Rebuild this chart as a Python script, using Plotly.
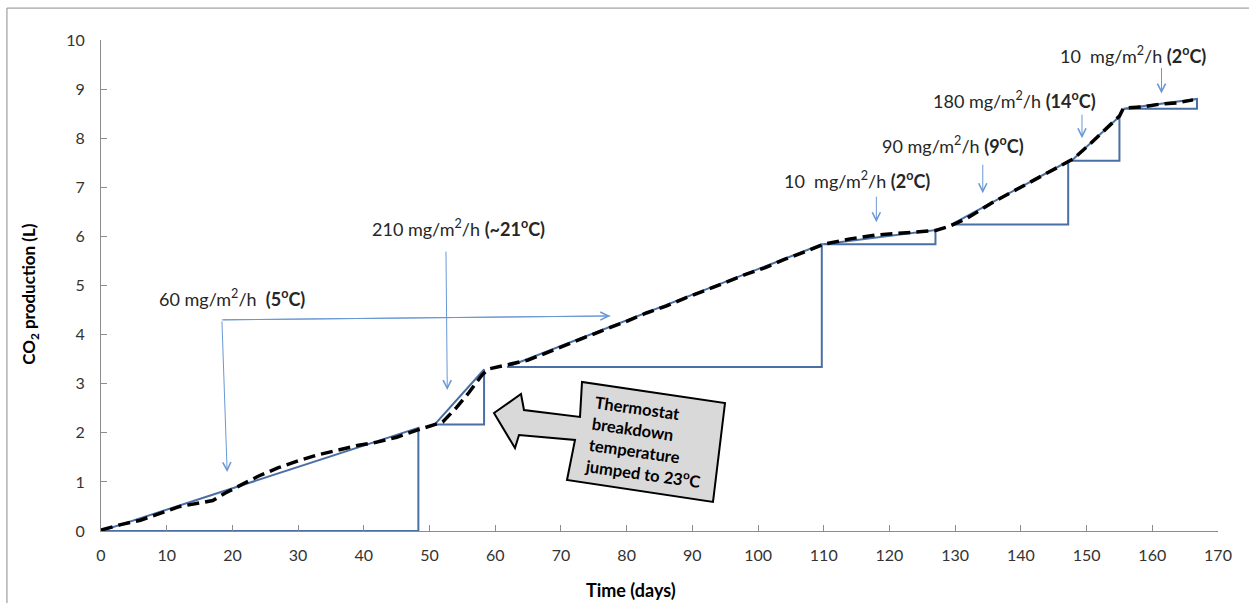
import plotly.graph_objects as go

# ---------------- data ----------------
# measured cumulative CO2 (dashed black curve)
curve_days = [0, 3, 6, 9, 12, 15, 17, 19, 21, 24, 27, 30, 33, 36, 39, 42, 45, 48, 50, 52,
              54, 56, 58, 59, 61, 63, 65, 68, 71, 74, 77, 80, 83, 86, 89, 92, 95, 98, 101,
              104, 107, 110, 114, 118, 122, 127, 129, 131.7, 135.8, 138, 140.9, 143, 146,
              148, 150.5, 153.6, 155, 155.6, 158.6, 161, 163.8, 166.2]
curve_co2 = [0.02, 0.13, 0.22, 0.36, 0.5, 0.57, 0.62, 0.78, 0.92, 1.12, 1.29, 1.43, 1.55, 1.65,
             1.74, 1.81, 1.91, 2.05, 2.14, 2.22, 2.5, 2.82, 3.18, 3.3, 3.36, 3.42, 3.48, 3.64,
             3.8, 3.97, 4.12, 4.27, 4.44, 4.58, 4.75, 4.9, 5.06, 5.22, 5.36, 5.53, 5.68, 5.84,
             5.95, 6.03, 6.07, 6.12, 6.2, 6.36, 6.7, 6.86, 7.06, 7.22, 7.44, 7.58, 7.88,
             8.27, 8.45, 8.61, 8.64, 8.69, 8.72, 8.78]

# rate triangles: start and end of each hypotenuse
seg_start_x = [0, 50.8, 61.8, 109.9, 129.4, 147.7, 155.6]
seg_start_y = [0, 2.17, 3.34, 5.84, 6.24, 7.54, 8.60]
seg_end_x = [48.3, 58.3, 109.7, 127.0, 147.2, 155.0, 166.8]
seg_end_y = [2.10, 3.29, 5.84, 6.13, 7.53, 8.44, 8.80]

# rate labels
rate_labels = ["60 mg/m<sup>2</sup>/h&nbsp; <b>(5<sup>o</sup>C)</b>",
               "210 mg/m<sup>2</sup>/h <b>(~21<sup>o</sup>C)</b>",
               "10&nbsp; mg/m<sup>2</sup>/h <b>(2<sup>o</sup>C)</b>",
               "90 mg/m<sup>2</sup>/h <b>(9<sup>o</sup>C)</b>",
               "180 mg/m<sup>2</sup>/h <b>(14<sup>o</sup>C)</b>",
               "10&nbsp; mg/m<sup>2</sup>/h <b>(2<sup>o</sup>C)</b>"]
label_x = [19.9, 54.4, 115.1, 129.6, 139.1, 157.1]
label_y = [4.75, 6.17, 7.15, 7.86, 8.78, 9.69]
# arrows (tail -> head)
arrow_tail_x = [18.4, 18.4, 52.5, 118.0, 134.2, 149.3, 161.4]
arrow_tail_y = [4.30, 4.30, 5.72, 6.84, 7.49, 8.51, 9.46]
arrow_head_x = [77.5, 19.2, 52.7, 118.0, 134.2, 149.3, 161.4]
arrow_head_y = [4.38, 1.20, 2.87, 6.29, 6.88, 8.00, 8.91]

x_ticks = list(range(0, 171, 10))
y_ticks = list(range(0, 11, 1))

FONT = "Lato"
TRI_COLOR = "#4A6FA5"
ARROW_COLOR = "#6A98D4"

# pixel helpers for the decorative callout box (plot area 101..1218 x 40..531)
def px2x(px):
    return (px - 101) / (1117 / 170)

def py2y(py):
    return (531 - py) / (491 / 10)

fig = go.Figure()

tx, ty = [], []
for sx, sy, ex, ey in zip(seg_start_x, seg_start_y, seg_end_x, seg_end_y):
    tx += [sx, ex, ex, sx, None]
    ty += [sy, ey, sy, sy, None]
fig.add_trace(go.Scatter(x=tx, y=ty, mode="lines",
                         line=dict(color=TRI_COLOR, width=2), hoverinfo="skip",
                         showlegend=False))
fig.add_trace(go.Scatter(x=curve_days, y=curve_co2, mode="lines",
                         line=dict(color="black", width=3.5, dash="12px,6px"),
                         showlegend=False))

annotations = []
for t, x, y in zip(rate_labels, label_x, label_y):
    annotations.append(dict(x=x, y=y, xref="x", yref="y", text=t, showarrow=False,
                            xanchor="center", yanchor="middle",
                            font=dict(family=FONT, size=18, color="#262626")))

shapes = []
# elbow line for the 60 mg label
shapes.append(dict(type="line", xref="x", yref="y", x0=arrow_tail_x[0], y0=arrow_tail_y[0],
                   x1=arrow_head_x[0], y1=arrow_head_y[0],
                   line=dict(color=ARROW_COLOR, width=1)))
for tx0, ty0, hx, hy in zip(arrow_tail_x, arrow_tail_y, arrow_head_x, arrow_head_y):
    annotations.append(dict(x=hx, y=hy, ax=tx0, ay=ty0, xref="x", yref="y",
                            axref="x", ayref="y", text="", showarrow=True,
                            arrowhead=5, arrowsize=1.6, arrowwidth=1,
                            arrowcolor=ARROW_COLOR))

# callout block arrow
poly_px = [(494, 413), (521, 394), (524, 410), (580, 417), (582, 382), (725, 403),
           (713, 502), (567, 480), (575, 440), (519, 435), (515, 448)]
path = "M " + " L ".join(f"{px2x(a):.3f},{py2y(b):.3f}" for a, b in poly_px) + " Z"
shapes.append(dict(type="path", xref="x", yref="y", path=path,
                   fillcolor="#D9D9D9", line=dict(color="black", width=2)))
annotations.append(dict(x=px2x(647), y=py2y(442), xref="x", yref="y",
                        text="<b>Thermostat<br>breakdown<br>temperature<br>jumped to 23<sup>o</sup>C</b>",
                        showarrow=False, textangle=8, align="left",
                        xanchor="center", yanchor="middle",
                        font=dict(family=FONT, size=16.5, color="black")))

# axis titles
annotations.append(dict(x=0.4745, y=-0.12, xref="paper", yref="paper",
                        xanchor="center", yanchor="middle",
                        text="<b>Time (days)</b>", showarrow=False,
                        font=dict(family=FONT, size=18, color="black")))
annotations.append(dict(x=-0.0636, y=0.483, xref="paper", yref="paper",
                        xanchor="center", yanchor="middle",
                        text="<b>CO<sub>2</sub> production (L)</b>", showarrow=False,
                        textangle=-90, font=dict(family=FONT, size=17, color="black")))

# chart-area border (top and left)
shapes.append(dict(type="line", xref="paper", yref="paper", x0=-0.0842, y0=1.065,
                   x1=1.03, y1=1.065, line=dict(color="#8C8C8C", width=1)))
shapes.append(dict(type="line", xref="paper", yref="paper", x0=-0.0842, y0=1.065,
                   x1=-0.0842, y1=-0.2, line=dict(color="#8C8C8C", width=1)))

fig.update_layout(
    width=1249, height=603,
    margin=dict(l=101, r=31, t=40, b=72),
    paper_bgcolor="white", plot_bgcolor="white",
    showlegend=False,
    annotations=annotations, shapes=shapes,
    font=dict(family=FONT, size=16, color="#333333"),
)
fig.update_xaxes(range=[0, 170], tickvals=x_ticks, showgrid=False, zeroline=False,
                 showline=True, linecolor="#8C8C8C", linewidth=1,
                 ticks="inside", ticklen=6, tickcolor="#8C8C8C", ticklabelstandoff=10,
                 tickfont=dict(family=FONT, size=16, color="#333333"))
fig.update_yaxes(range=[0, 10], tickvals=y_ticks, showgrid=False, zeroline=False,
                 showline=True, linecolor="#8C8C8C", linewidth=1,
                 ticks="inside", ticklen=6, tickcolor="#8C8C8C", ticklabelstandoff=12,
                 tickfont=dict(family=FONT, size=16, color="#333333"))

fig.write_html("out.html")
